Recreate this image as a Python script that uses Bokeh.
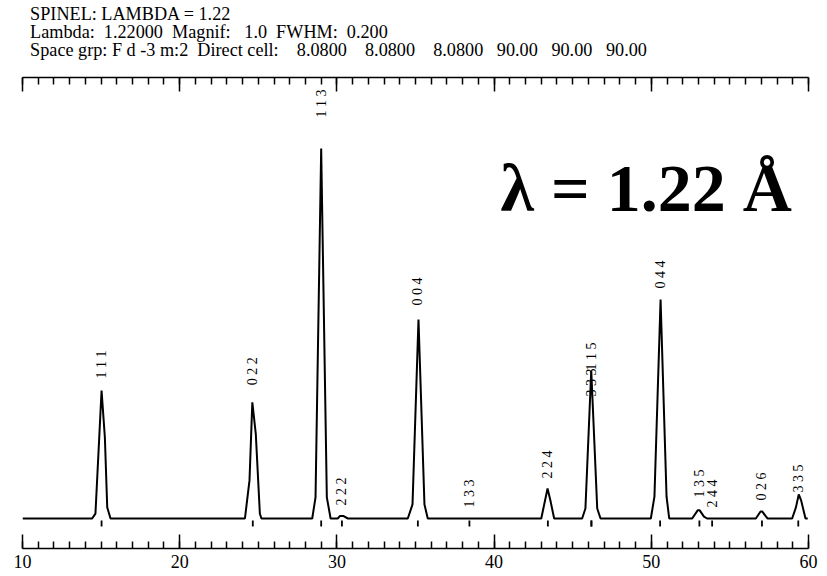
import numpy as np
from bokeh.plotting import figure
from bokeh.layouts import column
from bokeh.models import (Range1d, LinearAxis, SingleIntervalTicker,
                          ColumnDataSource, CustomJSTickFormatter)
from bokeh.core.properties import value
from bokeh.embed import file_html
from bokeh.resources import INLINE

# ---------------- data ----------------
header_lines = [
    "SPINEL: LAMBDA = 1.22",
    "Lambda:\u00a0 1.22000\u00a0 Magnif:\u00a0\u00a0 1.0\u00a0 FWHM:\u00a0 0.200",
    "Space grp: F d -3 m:2\u00a0 Direct cell:\u00a0\u00a0\u00a0 8.0800\u00a0\u00a0\u00a0 8.0800"
    "\u00a0\u00a0\u00a0 8.0800\u00a0\u00a0 90.00\u00a0\u00a0 90.00\u00a0\u00a0 90.00",
]
big_label = "\u03bb = 1.22 \u00c5"

# reflections (Bragg positions, 2-theta in degrees)
hkl = ["1 1 1", "0 2 2", "1 1 3", "2 2 2", "0 0 4", "1 3 3", "2 2 4",
       "1 1 5", "3 3 3", "0 4 4", "1 3 5", "2 4 4", "0 2 6", "3 3 5"]
two_theta = [15.03, 24.65, 29.00, 30.32, 35.15, 38.43, 43.42,
             46.19, 46.19, 50.56, 53.06, 53.87, 57.04, 59.35]
peak_int = [346, 314, 1000, 8, 538, 0, 81,
            400, 400, 592, 24, 0, 19, 65]

# calculated profile (2-theta, intensity)
profile_2theta = [10.00,
                  14.43, 14.64, 15.03, 15.24, 15.39, 15.60,
                  24.15, 24.44, 24.62, 24.84, 25.10, 25.20,
                  28.43, 28.64, 29.00, 29.36, 29.60,
                  30.05, 30.20, 30.40, 30.70,
                  34.51, 34.81, 35.19, 35.57, 35.78,
                  43.00, 43.40, 43.60, 43.82,
                  45.60, 45.81, 46.18, 46.56, 46.77,
                  49.97, 50.20, 50.59, 50.97, 51.14,
                  52.60, 52.95, 53.08, 53.35, 53.55,
                  56.65, 56.95, 57.05, 57.30, 57.40,
                  58.96, 59.20, 59.38, 59.53, 59.81,
                  59.95]
profile_int = [0,
               0, 13, 346, 219, 30, 0,
               0, 103, 314, 229, 13, 0,
               0, 57, 1000, 57, 0,
               0, 7, 7, 0,
               0, 38, 538, 38, 0,
               0, 81, 45, 0,
               0, 27, 400, 27, 0,
               0, 59, 592, 59, 0,
               0, 22, 22, 5, 0,
               0, 19, 19, 5, 0,
               0, 30, 65, 49, 0,
               0]

# ---------------- layout ----------------
X0, X1 = 10, 60
PX_PER_UNIT_Y = 370 / 1000.0            # pixels per intensity unit
FRAME_H = 471
BASE_FROM_BOTTOM = 30                    # px between frame bottom and baseline
YMIN = -BASE_FROM_BOTTOM / PX_PER_UNIT_Y
YMAX = (FRAME_H - BASE_FROM_BOTTOM) / PX_PER_UNIT_Y
FRAME_L, FRAME_T, FRAME_W = 22, 77, 786  # page pixels
HEADER_H = 64
TOTAL_W = 826


def px_x(page_x):
    return X0 + (page_x - FRAME_L) / FRAME_W * (X1 - X0)


def px_y(page_y):
    return YMAX - (page_y - FRAME_T) / FRAME_H * (YMAX - YMIN)


def dy(px):
    return px / PX_PER_UNIT_Y


label_gap_px = [12, 17, 31, 10, 14, 11, 10, 0, -26, 11, 12, 11, 11, 2]
SERIF = "Liberation Serif"

# ---------- header (text block) ----------
hdr = figure(width=TOTAL_W, height=HEADER_H,
             x_range=Range1d(0, TOTAL_W), y_range=Range1d(HEADER_H, 0),
             output_backend="svg", toolbar_location=None,
             x_axis_location=None, y_axis_location=None,
             min_border_left=0, min_border_right=0,
             min_border_top=0, min_border_bottom=0)
hdr.outline_line_color = None
hdr.grid.visible = False
hdr_src = ColumnDataSource(dict(x=[8] * len(header_lines),
                                y=[13.5 + 18 * i for i in range(len(header_lines))],
                                text=header_lines))
hdr.text(x="x", y="y", text="text", source=hdr_src,
         text_font=value(SERIF), text_font_size="18.2px", text_color="black",
         text_align="left", text_baseline="alphabetic")

# ---------- main plot ----------
MAIN_H = 576 - HEADER_H
p = figure(width=TOTAL_W, height=MAIN_H,
           x_range=Range1d(X0, X1), y_range=Range1d(YMIN, YMAX),
           output_backend="svg", toolbar_location=None,
           x_axis_location=None, y_axis_location=None,
           min_border_left=FRAME_L, min_border_right=TOTAL_W - FRAME_L - FRAME_W,
           min_border_top=FRAME_T - HEADER_H,
           min_border_bottom=MAIN_H - (FRAME_T - HEADER_H) - FRAME_H)
p.outline_line_color = None
p.grid.visible = False
p.background_fill_color = "white"
p.border_fill_color = "white"


def make_axis(labels=True):
    ax = LinearAxis(ticker=SingleIntervalTicker(interval=10, num_minor_ticks=10))
    ax.axis_line_color = "black"
    ax.axis_line_width = 1.5
    ax.major_tick_line_color = "black"
    ax.major_tick_line_width = 1.5
    ax.minor_tick_line_color = "black"
    ax.minor_tick_line_width = 1.5
    ax.major_tick_in = 14
    ax.major_tick_out = 0
    ax.minor_tick_in = 7
    ax.minor_tick_out = 0
    ax.major_label_standoff = 6
    ax.major_label_text_font = SERIF
    ax.major_label_text_font_size = "18px"
    ax.major_label_text_color = "black"
    if not labels:
        ax.major_label_standoff = 0
        ax.major_label_text_font_size = "1px"
        ax.formatter = CustomJSTickFormatter(code="return ''")
    return ax


p.add_layout(make_axis(True), "below")
p.add_layout(make_axis(False), "above")

# profile
p.line(profile_2theta, profile_int, line_color="black", line_width=2)

# Bragg ticks
p.segment(x0=two_theta, y0=[-dy(2)] * len(two_theta),
          x1=two_theta, y1=[-dy(8)] * len(two_theta),
          line_color="black", line_width=1.8)

# hkl labels
lab_y = [h + dy(g) for h, g in zip(peak_int, label_gap_px)]
src = ColumnDataSource(dict(x=two_theta, y=lab_y, text=hkl))
p.text(x="x", y="y", text="text", source=src, angle=np.pi / 2,
       text_align="left", text_baseline="middle",
       text_font=value(SERIF), text_font_size="14px", text_color="black")

# wavelength annotation
big_src = ColumnDataSource(dict(x=[px_x(500)], y=[px_y(187)], text=[big_label]))
p.text(x="x", y="y", text="text", source=big_src,
       text_font=value(SERIF), text_font_style="bold",
       text_font_size="68px", text_color="black",
       text_baseline="alphabetic", text_align="left")

layout = column(hdr, p, spacing=0)
open("out.html", "w").write(file_html(layout, INLINE))
